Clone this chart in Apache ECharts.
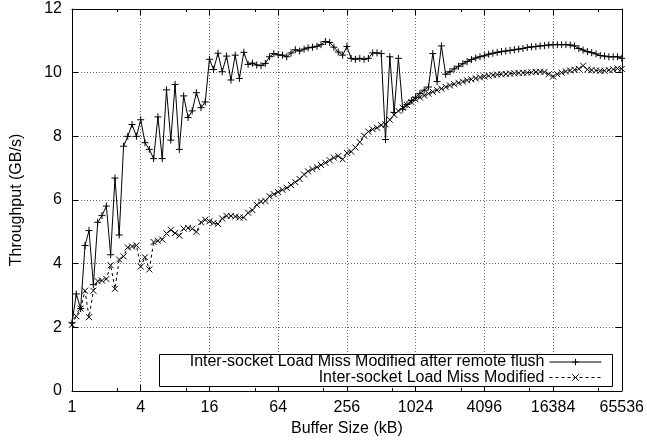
<!DOCTYPE html>
<html><head><meta charset="utf-8">
<script src="https://cdn.jsdelivr.net/npm/echarts@6/dist/echarts.min.js"></script>
<style>html,body{margin:0;padding:0;background:#fff}#c{width:647px;height:444px}</style>
</head><body><div id="c"></div>
<script>
// Buffer sizes (kB): 8 points per doubling
const bufferSizes = [
  1, 1.09, 1.19, 1.3, 1.41, 1.54, 1.68, 1.83,
  2, 2.18, 2.38, 2.59, 2.83, 3.08, 3.36, 3.67,
  4, 4.36, 4.76, 5.19, 5.66, 6.17, 6.73, 7.34,
  8, 8.72, 9.51, 10.4, 11.3, 12.3, 13.5, 14.7,
  16, 17.4, 19, 20.7, 22.6, 24.7, 26.9, 29.3,
  32, 34.9, 38.1, 41.5, 45.3, 49.4, 53.8, 58.7,
  64, 69.8, 76.1, 83, 90.5, 98.7, 108, 117,
  128, 140, 152, 166, 181, 197, 215, 235,
  256, 279, 304, 332, 362, 395, 431, 470,
  512, 558, 609, 664, 724, 790, 861, 939,
  1024, 1117, 1218, 1328, 1448, 1579, 1722, 1878,
  2048, 2233, 2435, 2656, 2896, 3158, 3444, 3756,
  4096, 4467, 4871, 5312, 5793, 6317, 6889, 7512,
  8192, 8933, 9742, 10624, 11585, 12634, 13777, 15024,
  16384, 17867, 19484, 21247, 23170, 25268, 27554, 30048,
  32768, 35734, 38968, 42495, 46341, 50535, 55109, 60097,
  65536
];
// Inter-socket Load Miss Modified after remote flush (GB/s)
const flushThroughput = [
  2.14, 3.05, 2.59, 4.57, 5.04, 3.34, 5.30, 5.51,
  5.81, 4.28, 6.69, 4.90, 7.69, 8.00, 8.37, 8.00,
  8.52, 7.80, 7.59, 7.30, 8.61, 7.30, 9.46, 7.88,
  9.63, 7.59, 9.27, 8.59, 8.80, 9.37, 8.90, 9.08,
  10.42, 10.10, 10.61, 10.03, 10.52, 9.77, 10.55, 9.82,
  10.64, 10.26, 10.30, 10.24, 10.22, 10.29, 10.50, 10.60,
  10.56, 10.55, 10.50, 10.62, 10.72, 10.68, 10.74, 10.78,
  10.80, 10.83, 10.88, 10.98, 10.95, 10.80, 10.65, 10.55,
  10.82, 10.45, 10.42, 10.45, 10.42, 10.45, 10.62, 10.62,
  10.60, 7.90, 10.50, 8.75, 10.45, 8.85, 9.00, 9.12,
  9.23, 9.35, 9.45, 9.55, 10.60, 9.72, 10.84, 9.95,
  10.03, 10.12, 10.20, 10.28, 10.35, 10.41, 10.46, 10.50,
  10.53, 10.58, 10.61, 10.64, 10.66, 10.68, 10.70, 10.72,
  10.74, 10.76, 10.79, 10.81, 10.82, 10.84, 10.85, 10.87,
  10.88, 10.88, 10.88, 10.88, 10.87, 10.84, 10.76, 10.71,
  10.66, 10.63, 10.59, 10.54, 10.52, 10.50, 10.50, 10.50,
  10.45
];
// Inter-socket Load Miss Modified (GB/s)
const modifiedThroughput = [
  2.08, 2.35, 2.59, 3.15, 2.32, 3.15, 3.45, 3.47,
  3.52, 3.95, 3.21, 4.13, 4.23, 4.51, 4.54, 4.57,
  3.91, 4.20, 3.82, 4.68, 4.72, 4.76, 4.95, 5.06,
  4.96, 4.88, 5.10, 5.12, 5.10, 5.00, 5.30, 5.38,
  5.33, 5.28, 5.25, 5.42, 5.50, 5.50, 5.48, 5.45,
  5.45, 5.60, 5.68, 5.85, 5.95, 5.97, 6.12, 6.18,
  6.25, 6.32, 6.38, 6.47, 6.56, 6.66, 6.80, 6.90,
  6.97, 7.03, 7.10, 7.17, 7.25, 7.33, 7.38, 7.28,
  7.48, 7.52, 7.65, 7.82, 8.02, 8.15, 8.22, 8.27,
  8.35, 8.38, 8.52, 8.68, 8.80, 8.90, 8.98, 9.08,
  9.16, 9.22, 9.28, 9.34, 9.40, 9.45, 9.50, 9.55,
  9.60, 9.64, 9.68, 9.72, 9.76, 9.79, 9.82, 9.85,
  9.88, 9.90, 9.92, 9.94, 9.95, 9.96, 9.97, 9.98,
  9.99, 10.00, 10.00, 10.01, 10.02, 10.03, 10.02, 9.95,
  9.88, 9.95, 10.00, 10.04, 10.07, 10.09, 10.12, 10.22,
  10.10, 10.08, 10.07, 10.06, 10.06, 10.08, 10.10, 10.13,
  10.12
];
const seriesNames = [
  'Inter-socket Load Miss Modified after remote flush',
  'Inter-socket Load Miss Modified'
];
const xName = 'Buffer Size (kB)';
const yName = 'Throughput (GB/s)';

const FONT = '"Liberation Sans", Arial, Helvetica, sans-serif';
const plusSym = 'path://M5,0L5,10M0,5L10,5';
const crossSym = 'path://M0,0L10,10M10,0L0,10';
const gridLine = { show: true, lineStyle: { type: [1, 2], color: '#666', width: 1 } };
const axisLine = { show: true, onZero: false, lineStyle: { color: '#000', width: 1 } };

function xAxisCfg(pos, main) {
  return {
    type: 'log', logBase: 2, min: 1, max: 65536, interval: 2, position: pos,
    axisLine: axisLine,
    axisTick: { show: true, inside: true, length: 6, lineStyle: { color: '#000' } },
    minorTick: { show: true, splitNumber: 2, length: 3, lineStyle: { color: '#000' } },
    minorSplitLine: { show: false },
    splitLine: main ? gridLine : { show: false },
    axisLabel: main ? { show: true, margin: 9, color: '#000', fontSize: 16, fontFamily: FONT,
      formatter: v => String(Math.round(v)) } : { show: false },
    name: main ? xName : '', nameLocation: 'middle', nameGap: 30,
    nameTextStyle: { color: '#000', fontSize: 16, fontFamily: FONT }
  };
}
function yAxisCfg(pos, main) {
  return {
    type: 'value', min: 0, max: 12, interval: 2, position: pos,
    axisLine: axisLine,
    axisTick: { show: true, inside: true, length: 6, lineStyle: { color: '#000' } },
    splitLine: main ? gridLine : { show: false },
    axisLabel: main ? { show: true, margin: 10, color: '#000', fontSize: 16, fontFamily: FONT } : { show: false },
    name: main ? yName : '', nameLocation: 'middle', nameGap: 47,
    nameTextStyle: { color: '#000', fontSize: 16, fontFamily: FONT }
  };
}

const legendBase = {
  right: 45, orient: 'horizontal', align: 'right', padding: 0,
  itemWidth: 52, itemHeight: 8, itemGap: 0, selectedMode: false,
  textStyle: { color: '#000', fontSize: 16, fontFamily: FONT, lineHeight: 16 },
  itemStyle: { color: '#000', borderColor: '#000', borderWidth: 1 }
};

const chart = echarts.init(document.getElementById('c'), null, { renderer: 'canvas' });
chart.setOption({
  animation: false,
  backgroundColor: '#fff',
  grid: { left: 72, right: 25, top: 9, bottom: 53, containLabel: false },
  xAxis: [xAxisCfg('bottom', true), xAxisCfg('top', false)],
  yAxis: [yAxisCfg('left', true), yAxisCfg('right', false)],
  graphic: [{
    type: 'rect', z: 3, silent: true,
    shape: { x: 159.5, y: 354.5, width: 453, height: 32 },
    style: { fill: '#fff', stroke: '#000', lineWidth: 1 }
  }],
  legend: [
    Object.assign({}, legendBase, { top: 354, data: [seriesNames[0]],
      lineStyle: { color: '#000', width: 1, type: 'solid' } }),
    Object.assign({}, legendBase, { top: 369.5, data: [seriesNames[1]],
      lineStyle: { color: '#000', width: 1, type: [3, 3] } })
  ],
  series: [
    {
      name: seriesNames[0], type: 'line', xAxisIndex: 0, yAxisIndex: 0,
      data: bufferSizes.map((x, i) => [x, flushThroughput[i]]),
      symbol: plusSym, symbolSize: 7, showSymbol: true,
      lineStyle: { color: '#000', width: 1, type: 'solid' },
      itemStyle: { color: '#000', borderColor: '#000', borderWidth: 1 }
    },
    {
      name: seriesNames[1], type: 'line', xAxisIndex: 0, yAxisIndex: 0,
      data: bufferSizes.map((x, i) => [x, modifiedThroughput[i]]),
      symbol: crossSym, symbolSize: 6, showSymbol: true,
      lineStyle: { color: '#000', width: 1, type: [3, 3] },
      itemStyle: { color: '#000', borderColor: '#000', borderWidth: 1 }
    }
  ]
});
</script>
</body></html>
